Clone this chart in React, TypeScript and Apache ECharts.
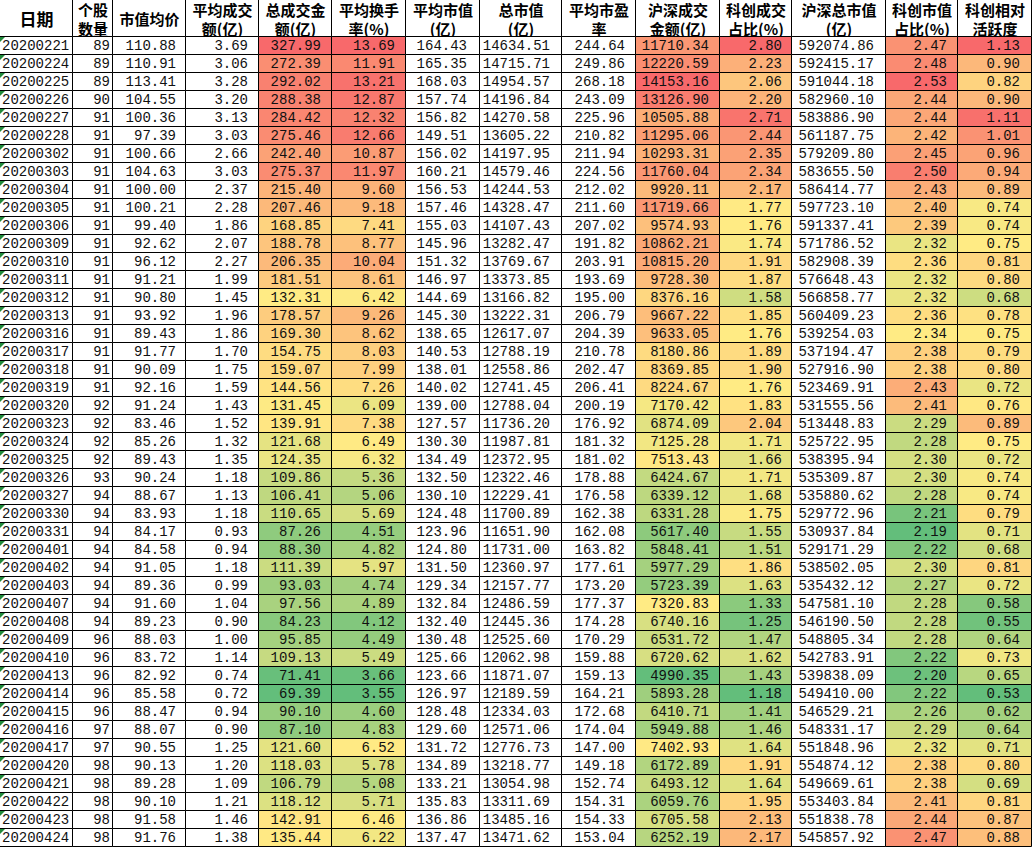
import React, { useEffect, useRef } from "react";
import * as echarts from "echarts";

// ---------- data ----------
const DATES = [
  "20200221", "20200224", "20200225", "20200226", "20200227", "20200228", "20200302", "20200303", "20200304",
  "20200305", "20200306", "20200309", "20200310", "20200311", "20200312", "20200313", "20200316", "20200317",
  "20200318", "20200319", "20200320", "20200323", "20200324", "20200325", "20200326", "20200327", "20200330",
  "20200331", "20200401", "20200402", "20200403", "20200407", "20200408", "20200409", "20200410", "20200413",
  "20200414", "20200415", "20200416", "20200417", "20200420", "20200421", "20200422", "20200423", "20200424",
];
const STOCK_COUNT = [
  89, 89, 89, 90, 91, 91, 91, 91, 91, 91, 91, 91, 91, 91, 91, 91, 91, 91, 91, 91, 92, 92, 92, 92, 93, 94, 94,
  94, 94, 94, 94, 94, 94, 96, 96, 96, 96, 96, 97, 97, 98, 98, 98, 98, 98,
];
const AVG_PRICE = [
  110.88, 110.91, 113.41, 104.55, 100.36, 97.39, 100.66, 104.63, 100.0, 100.21, 99.4, 92.62, 96.12, 91.21, 90.8,
  93.92, 89.43, 91.77, 90.09, 92.16, 91.24, 83.46, 85.26, 89.43, 90.24, 88.67, 83.93, 84.17, 84.58, 91.05, 89.36,
  91.6, 89.23, 88.03, 83.72, 82.92, 85.58, 88.47, 88.07, 90.55, 90.13, 89.28, 90.1, 91.58, 91.76,
];
const AVG_TURNOVER = [
  3.69, 3.06, 3.28, 3.2, 3.13, 3.03, 2.66, 3.03, 2.37, 2.28, 1.86, 2.07, 2.27, 1.99, 1.45, 1.96, 1.86, 1.7, 1.75,
  1.59, 1.43, 1.52, 1.32, 1.35, 1.18, 1.13, 1.18, 0.93, 0.94, 1.18, 0.99, 1.04, 0.9, 1.0, 1.14, 0.74, 0.72, 0.94,
  0.9, 1.25, 1.2, 1.09, 1.21, 1.46, 1.38,
];
const TOTAL_TURNOVER = [
  327.99, 272.39, 292.02, 288.38, 284.42, 275.46, 242.4, 275.37, 215.4, 207.46, 168.85, 188.78, 206.35, 181.51,
  132.31, 178.57, 169.3, 154.75, 159.07, 144.56, 131.45, 139.91, 121.68, 124.35, 109.86, 106.41, 110.65, 87.26,
  88.3, 111.39, 93.03, 97.56, 84.23, 95.85, 109.13, 71.41, 69.39, 90.1, 87.1, 121.6, 118.03, 106.79, 118.12,
  142.91, 135.44,
];
const AVG_TURNOVER_RATE = [
  13.69, 11.91, 13.21, 12.87, 12.32, 12.66, 10.87, 11.97, 9.6, 9.18, 7.41, 8.77, 10.04, 8.61, 6.42, 9.26, 8.62,
  8.03, 7.99, 7.26, 6.09, 7.38, 6.49, 6.32, 5.36, 5.06, 5.69, 4.51, 4.82, 5.97, 4.74, 4.89, 4.12, 4.49, 5.49,
  3.66, 3.55, 4.6, 4.83, 6.52, 5.78, 5.08, 5.71, 6.46, 6.22,
];
const AVG_MKT_CAP = [
  164.43, 165.35, 168.03, 157.74, 156.82, 149.51, 156.02, 160.21, 156.53, 157.46, 155.03, 145.96, 151.32, 146.97,
  144.69, 145.3, 138.65, 140.53, 138.01, 140.02, 139.0, 127.57, 130.3, 134.49, 132.5, 130.1, 124.48, 123.96,
  124.8, 131.5, 129.34, 132.84, 132.4, 130.48, 125.66, 123.66, 126.97, 128.48, 129.6, 131.72, 134.89, 133.21,
  135.83, 136.86, 137.47,
];
const TOTAL_MKT_CAP = [
  14634.51, 14715.71, 14954.57, 14196.84, 14270.58, 13605.22, 14197.95, 14579.46, 14244.53, 14328.47, 14107.43,
  13282.47, 13769.67, 13373.85, 13166.82, 13222.31, 12617.07, 12788.19, 12558.86, 12741.45, 12788.04, 11736.2,
  11987.81, 12372.95, 12322.46, 12229.41, 11700.89, 11651.9, 11731.0, 12360.97, 12157.77, 12486.59, 12445.36,
  12525.6, 12062.98, 11871.07, 12189.59, 12334.03, 12571.06, 12776.73, 13218.77, 13054.98, 13311.69, 13485.16,
  13471.62,
];
const AVG_PE = [
  244.64, 249.86, 268.18, 243.09, 225.96, 210.82, 211.94, 224.56, 212.02, 211.6, 207.02, 191.82, 203.91, 193.69,
  195.0, 206.79, 204.39, 210.78, 202.47, 206.41, 200.19, 176.92, 181.32, 181.02, 178.88, 176.58, 162.38, 162.08,
  163.82, 177.61, 173.2, 177.37, 174.28, 170.29, 159.88, 159.13, 164.21, 172.68, 174.04, 147.0, 149.18, 152.74,
  154.31, 154.33, 153.04,
];
const HS_TURNOVER = [
  11710.34, 12220.59, 14153.16, 13126.9, 10505.88, 11295.06, 10293.31, 11760.04, 9920.11, 11719.66, 9574.93,
  10862.21, 10815.2, 9728.3, 8376.16, 9667.22, 9633.05, 8180.86, 8369.85, 8224.67, 7170.42, 6874.09, 7125.28,
  7513.43, 6424.67, 6339.12, 6331.28, 5617.4, 5848.41, 5977.29, 5723.39, 7320.83, 6740.16, 6531.72, 6720.62,
  4990.35, 5893.28, 6410.71, 5949.88, 7402.93, 6172.89, 6493.12, 6059.76, 6705.58, 6252.19,
];
const STAR_TURNOVER_SHARE = [
  2.8, 2.23, 2.06, 2.2, 2.71, 2.44, 2.35, 2.34, 2.17, 1.77, 1.76, 1.74, 1.91, 1.87, 1.58, 1.85, 1.76, 1.89, 1.9,
  1.76, 1.83, 2.04, 1.71, 1.66, 1.71, 1.68, 1.75, 1.55, 1.51, 1.86, 1.63, 1.33, 1.25, 1.47, 1.62, 1.43, 1.18,
  1.41, 1.46, 1.64, 1.91, 1.64, 1.95, 2.13, 2.17,
];
const HS_MKT_CAP = [
  592074.86, 592415.17, 591044.18, 582960.1, 583886.9, 561187.75, 579209.8, 583655.5, 586414.77, 597723.1,
  591337.41, 571786.52, 582908.39, 576648.43, 566858.77, 560409.23, 539254.03, 537194.47, 527916.9, 523469.91,
  531555.56, 513448.83, 525722.95, 538395.94, 535309.87, 535880.62, 529772.96, 530937.84, 529171.29, 538502.05,
  535432.12, 547581.1, 546190.5, 548805.34, 542783.91, 539838.09, 549410.0, 546529.21, 548331.17, 551848.96,
  554874.12, 549669.61, 553403.84, 551838.78, 545857.92,
];
const STAR_MKT_CAP_SHARE = [
  2.47, 2.48, 2.53, 2.44, 2.44, 2.42, 2.45, 2.5, 2.43, 2.4, 2.39, 2.32, 2.36, 2.32, 2.32, 2.36, 2.34, 2.38, 2.38,
  2.43, 2.41, 2.29, 2.28, 2.3, 2.3, 2.28, 2.21, 2.19, 2.22, 2.3, 2.27, 2.28, 2.28, 2.28, 2.22, 2.2, 2.22, 2.26,
  2.29, 2.32, 2.38, 2.38, 2.41, 2.44, 2.47,
];
const STAR_ACTIVITY = [
  1.13, 0.9, 0.82, 0.9, 1.11, 1.01, 0.96, 0.94, 0.89, 0.74, 0.74, 0.75, 0.81, 0.8, 0.68, 0.78, 0.75, 0.79, 0.8,
  0.72, 0.76, 0.89, 0.75, 0.72, 0.74, 0.74, 0.79, 0.71, 0.68, 0.81, 0.72, 0.58, 0.55, 0.64, 0.73, 0.65, 0.53,
  0.62, 0.64, 0.71, 0.8, 0.69, 0.81, 0.87, 0.88,
];

const HEADERS = [
  ["日期"],
  ["个股", "数量"],
  ["市值均价"],
  ["平均成交", "额(亿)"],
  ["总成交金", "额(亿)"],
  ["平均换手", "率(%)"],
  ["平均市值", "(亿)"],
  ["总市值", "(亿)"],
  ["平均市盈", "率"],
  ["沪深成交", "金额(亿)"],
  ["科创成交", "占比(%)"],
  ["沪深总市值", "(亿)"],
  ["科创市值", "占比(%)"],
  ["科创相对", "活跃度"],
];

const COLUMNS: (string[] | number[])[] = [
  DATES, STOCK_COUNT, AVG_PRICE, AVG_TURNOVER, TOTAL_TURNOVER, AVG_TURNOVER_RATE, AVG_MKT_CAP, TOTAL_MKT_CAP,
  AVG_PE, HS_TURNOVER, STAR_TURNOVER_SHARE, HS_MKT_CAP, STAR_MKT_CAP_SHARE, STAR_ACTIVITY,
];
const DECIMALS = [0, 0, 2, 2, 2, 2, 2, 2, 2, 2, 2, 2, 2, 2];
const COLOR_SCALED = [4, 5, 9, 10, 12, 13];

// ---------- layout / style ----------
const WIDTH = 1032;
const HEIGHT = 847;
const HEADER_H = 37;
const COL_EDGES = [0, 73, 113, 186, 259, 332, 406, 480, 562, 636, 720, 792, 886, 958, 1032];
const RIGHT_PAD = [0, 3, 10, 11, 11, 11, 13, 12, 11, 11, 10, 12, 11, 12];
const NUM_FONT = "'Liberation Mono', 'DejaVu Sans Mono', monospace";
const HEAD_FONT = "'Noto Sans CJK SC', 'Noto Sans', sans-serif";
const HEAD_LINE_Y = [9, 28.5];
const GREEN = [99, 190, 123];
const YELLOW = [255, 235, 132];
const RED = [248, 105, 107];

function percentile50(arr: number[]) {
  const s = [...arr].sort((a, b) => a - b);
  const pos = 0.5 * (s.length - 1);
  const lo = Math.floor(pos);
  const hi = Math.ceil(pos);
  return s[lo] + (s[hi] - s[lo]) * (pos - lo);
}

function mix(a: number[], b: number[], t: number) {
  const c = a.map((v, i) => Math.round(v + (b[i] - v) * t));
  return `rgb(${c[0]},${c[1]},${c[2]})`;
}

const SCALES: Record<number, { min: number; mid: number; max: number }> = {};
COLOR_SCALED.forEach((c) => {
  const arr = COLUMNS[c] as number[];
  SCALES[c] = { min: Math.min(...arr), mid: percentile50(arr), max: Math.max(...arr) };
});

function cellColor(c: number, v: number) {
  const s = SCALES[c];
  if (!s) return "#ffffff";
  if (v <= s.mid) {
    const t = s.mid === s.min ? 0 : (v - s.min) / (s.mid - s.min);
    return mix(GREEN, YELLOW, t);
  }
  const t = s.max === s.mid ? 1 : (v - s.mid) / (s.max - s.mid);
  return mix(YELLOW, RED, t);
}

function formatCell(c: number, r: number) {
  const v = COLUMNS[c][r];
  if (typeof v === "string") return v;
  return DECIMALS[c] ? v.toFixed(DECIMALS[c]) : String(v);
}

export default function App() {
  const ref = useRef<HTMLDivElement>(null);

  useEffect(() => {
    if (!ref.current) return;
    const chart = echarts.init(ref.current, undefined, { renderer: "svg" });

    const cells: number[][] = [];
    DATES.forEach((_, r) => {
      COLUMNS.forEach((__, c) => {
        cells.push([COL_EDGES[c], r, c]);
      });
    });

    const headerElements: any[] = [];
    HEADERS.forEach((lines, c) => {
      const x0 = COL_EDGES[c];
      const x1 = COL_EDGES[c + 1];
      headerElements.push({
        type: "rect",
        shape: { x: x0 - 0.5, y: -0.5, width: x1 - x0, height: HEADER_H },
        style: { fill: "#ffffff", stroke: "#000000", lineWidth: 1 },
        silent: true,
      });
      lines.forEach((t, i) => {
        headerElements.push({
          type: "text",
          x: (x0 + x1) / 2,
          y: lines.length === 1 ? 18.5 : HEAD_LINE_Y[i],
          silent: true,
          style: {
            text: t,
            fill: "#000000",
            fontFamily: HEAD_FONT,
            fontSize: lines.length === 1 && c === 0 ? 17 : 15,
            fontWeight: "bold",
            align: "center",
            verticalAlign: "middle",
          },
        });
      });
    });

    chart.setOption({
      animation: false,
      backgroundColor: "#ffffff",
      grid: { left: 0, right: 0, top: HEADER_H, bottom: 0, containLabel: false },
      xAxis: { type: "value", min: 0, max: WIDTH, show: false },
      yAxis: { type: "category", data: DATES, inverse: true, show: false },
      graphic: { elements: headerElements },
      series: [
        {
          type: "custom",
          clip: false,
          encode: { x: 0, y: 1 },
          data: cells,
          renderItem: (params: any, api: any) => {
            const r = api.value(1);
            const c = api.value(2);
            const pL = api.coord([COL_EDGES[c], r]);
            const pR = api.coord([COL_EDGES[c + 1], r]);
            const bandH = api.size([0, 1])[1];
            const xL = Math.round(pL[0]);
            const xR = Math.round(pR[0]);
            const yT = Math.round(pL[1] - bandH / 2);
            const yB = Math.round(pL[1] + bandH / 2);
            const raw = COLUMNS[c][r];
            const fill = typeof raw === "number" ? cellColor(c, raw) : "#ffffff";
            const children: any[] = [
              {
                type: "rect",
                shape: { x: xL - 0.5, y: yT - 0.5, width: xR - xL, height: yB - yT },
                style: { fill, stroke: "#000000", lineWidth: 1 },
              },
              {
                type: "text",
                x: c === 0 ? xL + 2 : xR - RIGHT_PAD[c],
                y: (yT + yB) / 2,
                style: {
                  text: formatCell(c, r),
                  fill: "#111111",
                  fontFamily: NUM_FONT,
                  fontSize: 14,
                  align: c === 0 ? "left" : "right",
                  verticalAlign: "middle",
                },
              },
            ];
            if (c === 0) {
              children.push({
                type: "polygon",
                shape: { points: [[xL, yT], [xL + 5, yT], [xL, yT + 5]] },
                style: { fill: "#1f8a3a" },
              });
            }
            return { type: "group", children };
          },
        },
      ],
    });

    return () => chart.dispose();
  }, []);

  return (
    <div
      ref={ref}
      style={{ position: "absolute", left: 0, top: 0, width: WIDTH, height: HEIGHT, background: "#fff" }}
    />
  );
}
